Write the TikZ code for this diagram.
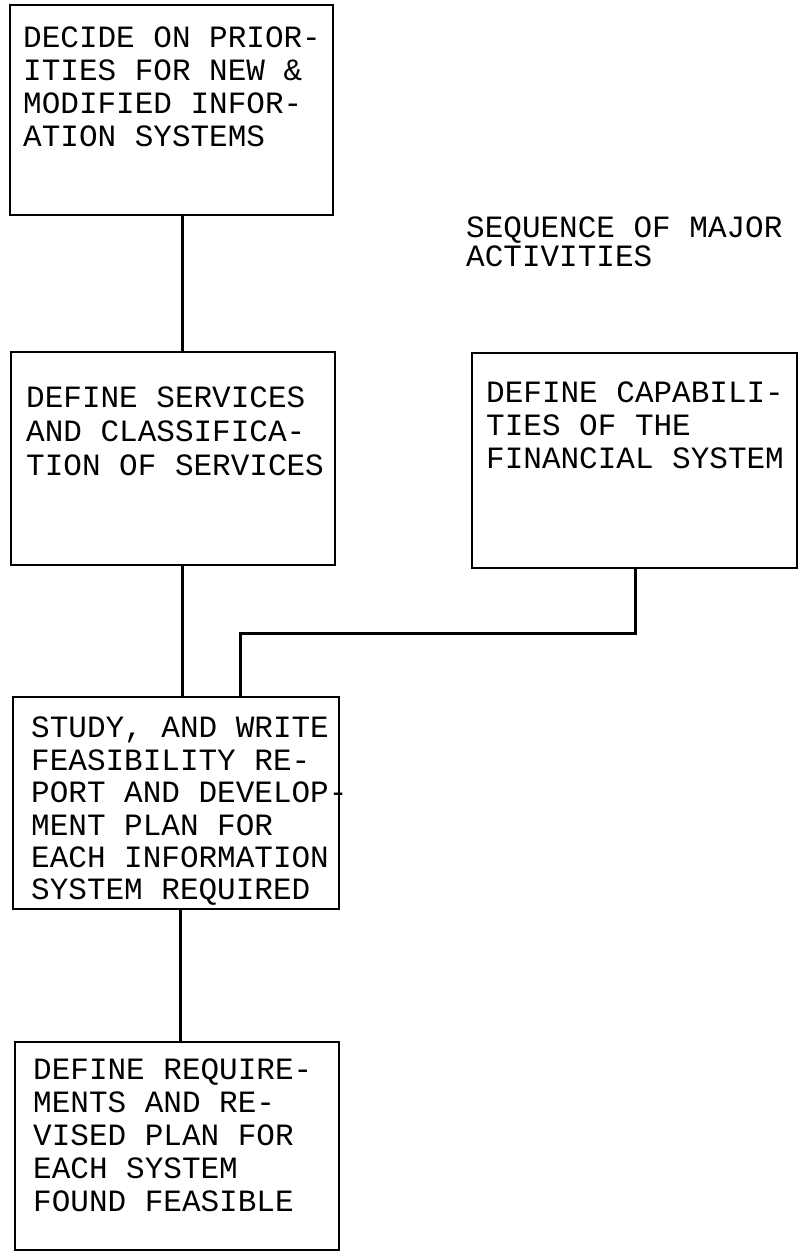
\documentclass[tikz,border=0pt]{standalone}
\usepackage{fontspec}
\newfontfamily\tw{Liberation Mono}
\begin{document}
\begin{tikzpicture}[x=1pt,y=-1pt,
  boxnode/.style={draw=black, line width=2.8pt, rectangle, inner sep=0pt, anchor=center},
  txt/.style={font=\tw\fontsize{31}{#1}\selectfont, align=left, anchor=north west, inner sep=0pt, text=black},
  link/.style={draw=black, line width=3pt}]
\useasboundingbox (0,0) rectangle (800,1252);
% boxes
\node[boxnode, minimum width=323pt, minimum height=210pt] (b1) at (171.5,110) {};
\node[boxnode, minimum width=324pt, minimum height=213pt] (b2) at (173,458.5) {};
\node[boxnode, minimum width=325pt, minimum height=215pt] (b3) at (634.5,460.5) {};
\node[boxnode, minimum width=326pt, minimum height=212pt] (b4) at (176,803) {};
\node[boxnode, minimum width=324pt, minimum height=208pt] (b5) at (177,1146) {};
% texts
\node[txt=33] (t1) at (23,27) {DECIDE ON PRIOR-\\ITIES FOR NEW \&\\MODIFIED INFOR-\\ATION SYSTEMS};
\node[txt=34] (t2) at (26,387) {DEFINE SERVICES\\AND CLASSIFICA-\\TION OF SERVICES};
\node[txt=33] (t3) at (486,382) {DEFINE CAPABILI-\\TIES OF THE\\FINANCIAL SYSTEM};
\node[txt=32.4] (t4) at (31,717) {STUDY, AND WRITE\\FEASIBILITY RE-\\PORT AND DEVELOP-\\MENT PLAN FOR\\EACH INFORMATION\\SYSTEM REQUIRED};
\node[txt=33] (t5) at (33,1059) {DEFINE REQUIRE-\\MENTS AND RE-\\VISED PLAN FOR\\EACH SYSTEM\\FOUND FEASIBLE};
\node[txt=28.5] (title) at (466,217) {SEQUENCE OF MAJOR\\ACTIVITIES};
% connector coordinates
\coordinate (c1) at (182,0);
\coordinate (c5) at (180,0);
\coordinate (turn) at (635,633);
\coordinate (c4) at (240,0);
% connectors
\draw[link] (b1.south -| c1) -- (b2.north -| c1);
\draw[link] (b2.south -| c1) -- (b4.north -| c1);
\draw[link] (b3.south -| turn) -- (turn) -| (b4.north -| c4);
\draw[link] (b4.south -| c5) -- (b5.north -| c5);
\end{tikzpicture}
\end{document}
